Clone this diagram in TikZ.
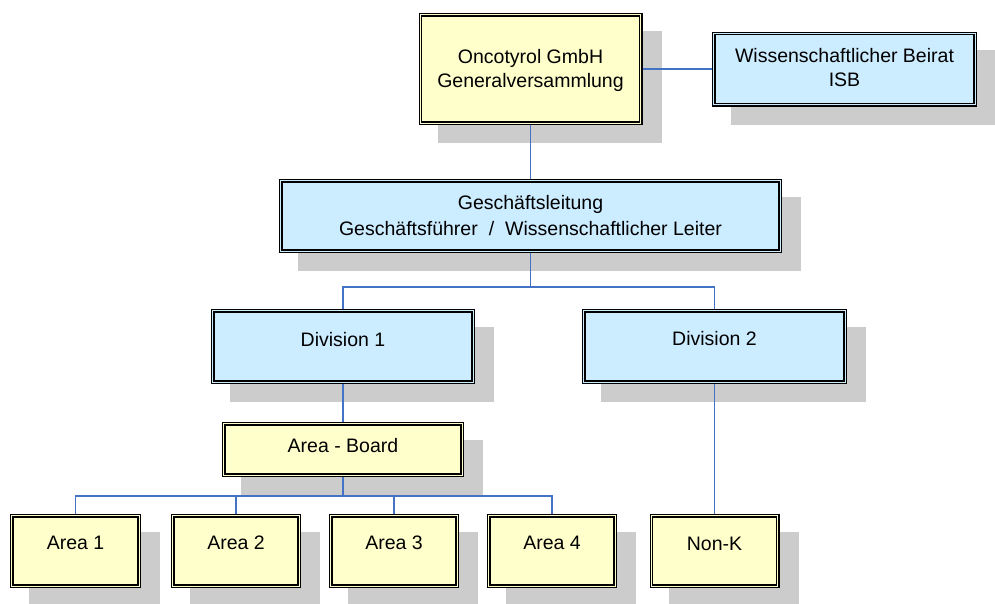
\documentclass[tikz,border=0pt]{standalone}
\usepackage{fontspec}
\setmainfont{Liberation Sans}
\usetikzlibrary{calc}
\pgfdeclarelayer{bg}
\pgfdeclarelayer{edges}
\pgfsetlayers{bg,edges,main}
\definecolor{boxyellow}{RGB}{255,255,204}
\definecolor{boxblue}{RGB}{204,236,255}
\definecolor{shadowgray}{RGB}{204,204,204}
\definecolor{linkblue}{RGB}{68,114,196}
\tikzset{
  orgbox/.style={rectangle, draw=black, line width=1.15pt, double distance=1.3pt, inner sep=0pt, outer sep=0pt},
  ybox/.style={orgbox, fill=boxyellow, double=boxyellow},
  bbox/.style={orgbox, fill=boxblue, double=boxblue},
  lbl/.style={anchor=base, inner sep=0pt, font=\fontsize{19.5}{24}\selectfont},
  link/.style={draw=linkblue, line width=1.3pt},
}
\newcommand\shadowof[1]{\fill[shadowgray] ($(#1.north west)+(17.2,16.2)$) rectangle ($(#1.south east)+(20.8,19.8)$);}
\begin{document}
\begin{tikzpicture}[x=1pt,y=-1pt]
\useasboundingbox (0,0) rectangle (995,603);
% boxes
\node[ybox, minimum width=220.4pt, minimum height=108.4pt] (b1) at (530.5,69) {};
\node[bbox, minimum width=261.4pt, minimum height=71.4pt] (b2) at (844.5,69) {};
\node[bbox, minimum width=499.4pt, minimum height=70.4pt] (b3) at (530.5,216) {};
\node[bbox, minimum width=260.4pt, minimum height=71.4pt] (d1) at (343,346.5) {};
\node[bbox, minimum width=261.4pt, minimum height=71.4pt] (d2) at (714.5,346.5) {};
\node[ybox, minimum width=238.4pt, minimum height=51.4pt] (ab) at (343,449.5) {};
\node[ybox, minimum width=127.4pt, minimum height=70.4pt] (a1) at (75.5,551) {};
\node[ybox, minimum width=126.4pt, minimum height=70.4pt] (a2) at (236,551) {};
\node[ybox, minimum width=126.4pt, minimum height=70.4pt] (a3) at (394,551) {};
\node[ybox, minimum width=126.4pt, minimum height=70.4pt] (a4) at (552,551) {};
\node[ybox, minimum width=126.4pt, minimum height=70.4pt] (nk) at (714.5,551) {};
% shadows
\begin{pgfonlayer}{bg}
\foreach \n in {b1,b2,b3,d1,d2,ab,a1,a2,a3,a4,nk} {\shadowof{\n}}
\end{pgfonlayer}
% connectors
\begin{pgfonlayer}{edges}
\draw[link] (b1.east) -- (b2.west);
\draw[link] (b1.south) -- (b3.north);
\coordinate (j1) at (530.5,287);
\draw[link] (b3.south) -- (j1);
\draw[link] (j1) -| (d1.north);
\draw[link] (j1) -| (d2.north);
\draw[link] (d1.south) -- (ab.north);
\coordinate (j2) at (343,496);
\draw[link] (ab.south) -- (j2);
\foreach \a in {a1,a2,a3,a4} {\draw[link] (j2) -| (\a.north);}
\draw[link] (d2.south) -- (nk.north);
\end{pgfonlayer}
% labels
\node[lbl] (t1a) at (530.5,63) {Oncotyrol GmbH};
\node[lbl] (t1b) at (530.5,87) {Generalversammlung};
\node[lbl] (t2a) at (844.5,62) {Wissenschaftlicher Beirat};
\node[lbl] (t2b) at (844.5,86) {ISB};
\node[lbl] (t3a) at (530.5,209) {Geschäftsleitung};
\node[lbl] (t3b) at (530.5,235) {Geschäftsführer\hspace{11pt}/\hspace{11pt}Wissenschaftlicher Leiter};
\node[lbl] (td1) at (343,346) {Division 1};
\node[lbl] (td2) at (714.5,345) {Division 2};
\node[lbl] (tab) at (343,452) {Area - Board};
\node[lbl] (ta1) at (75.5,549) {Area 1};
\node[lbl] (ta2) at (236,549) {Area 2};
\node[lbl] (ta3) at (394,549) {Area 3};
\node[lbl] (ta4) at (552,549) {Area 4};
\node[lbl] (tnk) at (714.5,550) {Non-K};
\end{tikzpicture}
\end{document}
